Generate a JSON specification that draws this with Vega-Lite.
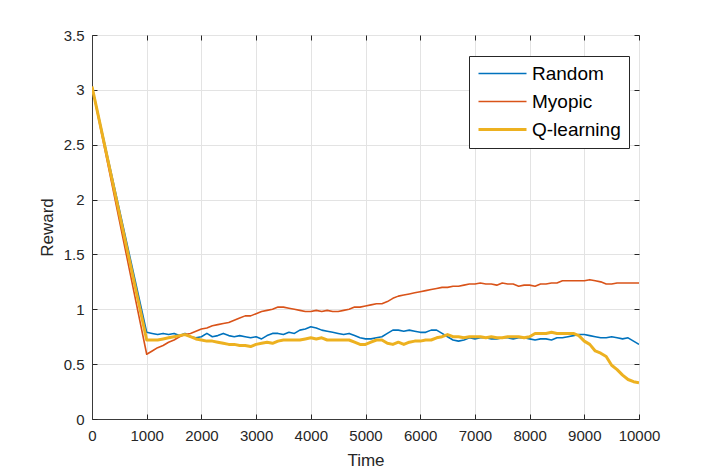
{
  "$schema": "https://vega.github.io/schema/vega-lite/v6.json",
  "width": 547,
  "height": 384,
  "autosize": {"type": "none"},
  "padding": {"left": 92, "top": 35, "right": 67, "bottom": 54},
  "background": "white",
  "data": {
    "values": [
      {"time": 0, "Random": 3.03, "Myopic": 3.03, "Q-learning": 3.03},
      {"time": 1000, "Random": 0.79, "Myopic": 0.59, "Q-learning": 0.72},
      {"time": 1100, "Random": 0.78, "Myopic": 0.62, "Q-learning": 0.72},
      {"time": 1200, "Random": 0.77, "Myopic": 0.65, "Q-learning": 0.72},
      {"time": 1300, "Random": 0.78, "Myopic": 0.67, "Q-learning": 0.73},
      {"time": 1400, "Random": 0.77, "Myopic": 0.70, "Q-learning": 0.74},
      {"time": 1500, "Random": 0.78, "Myopic": 0.72, "Q-learning": 0.75},
      {"time": 1600, "Random": 0.76, "Myopic": 0.75, "Q-learning": 0.76},
      {"time": 1700, "Random": 0.78, "Myopic": 0.77, "Q-learning": 0.77},
      {"time": 1800, "Random": 0.75, "Myopic": 0.78, "Q-learning": 0.75},
      {"time": 1900, "Random": 0.74, "Myopic": 0.80, "Q-learning": 0.73},
      {"time": 2000, "Random": 0.75, "Myopic": 0.82, "Q-learning": 0.72},
      {"time": 2100, "Random": 0.78, "Myopic": 0.83, "Q-learning": 0.71},
      {"time": 2200, "Random": 0.75, "Myopic": 0.85, "Q-learning": 0.71},
      {"time": 2300, "Random": 0.76, "Myopic": 0.86, "Q-learning": 0.70},
      {"time": 2400, "Random": 0.78, "Myopic": 0.87, "Q-learning": 0.69},
      {"time": 2500, "Random": 0.76, "Myopic": 0.88, "Q-learning": 0.68},
      {"time": 2600, "Random": 0.75, "Myopic": 0.90, "Q-learning": 0.68},
      {"time": 2700, "Random": 0.76, "Myopic": 0.92, "Q-learning": 0.67},
      {"time": 2800, "Random": 0.75, "Myopic": 0.94, "Q-learning": 0.67},
      {"time": 2900, "Random": 0.74, "Myopic": 0.94, "Q-learning": 0.66},
      {"time": 3000, "Random": 0.75, "Myopic": 0.96, "Q-learning": 0.68},
      {"time": 3100, "Random": 0.73, "Myopic": 0.98, "Q-learning": 0.69},
      {"time": 3200, "Random": 0.76, "Myopic": 0.99, "Q-learning": 0.70},
      {"time": 3300, "Random": 0.78, "Myopic": 1.00, "Q-learning": 0.69},
      {"time": 3400, "Random": 0.78, "Myopic": 1.02, "Q-learning": 0.71},
      {"time": 3500, "Random": 0.77, "Myopic": 1.02, "Q-learning": 0.72},
      {"time": 3600, "Random": 0.79, "Myopic": 1.01, "Q-learning": 0.72},
      {"time": 3700, "Random": 0.78, "Myopic": 1.00, "Q-learning": 0.72},
      {"time": 3800, "Random": 0.81, "Myopic": 0.99, "Q-learning": 0.72},
      {"time": 3900, "Random": 0.82, "Myopic": 0.98, "Q-learning": 0.73},
      {"time": 4000, "Random": 0.84, "Myopic": 0.98, "Q-learning": 0.74},
      {"time": 4100, "Random": 0.83, "Myopic": 0.99, "Q-learning": 0.73},
      {"time": 4200, "Random": 0.81, "Myopic": 0.98, "Q-learning": 0.74},
      {"time": 4300, "Random": 0.80, "Myopic": 0.99, "Q-learning": 0.72},
      {"time": 4400, "Random": 0.79, "Myopic": 0.98, "Q-learning": 0.72},
      {"time": 4500, "Random": 0.78, "Myopic": 0.98, "Q-learning": 0.72},
      {"time": 4600, "Random": 0.77, "Myopic": 0.99, "Q-learning": 0.72},
      {"time": 4700, "Random": 0.78, "Myopic": 1.00, "Q-learning": 0.72},
      {"time": 4800, "Random": 0.76, "Myopic": 1.02, "Q-learning": 0.70},
      {"time": 4900, "Random": 0.74, "Myopic": 1.02, "Q-learning": 0.68},
      {"time": 5000, "Random": 0.73, "Myopic": 1.03, "Q-learning": 0.68},
      {"time": 5100, "Random": 0.73, "Myopic": 1.04, "Q-learning": 0.70},
      {"time": 5200, "Random": 0.74, "Myopic": 1.05, "Q-learning": 0.72},
      {"time": 5300, "Random": 0.75, "Myopic": 1.05, "Q-learning": 0.72},
      {"time": 5400, "Random": 0.78, "Myopic": 1.07, "Q-learning": 0.69},
      {"time": 5500, "Random": 0.81, "Myopic": 1.10, "Q-learning": 0.68},
      {"time": 5600, "Random": 0.81, "Myopic": 1.12, "Q-learning": 0.70},
      {"time": 5700, "Random": 0.80, "Myopic": 1.13, "Q-learning": 0.68},
      {"time": 5800, "Random": 0.81, "Myopic": 1.14, "Q-learning": 0.70},
      {"time": 5900, "Random": 0.80, "Myopic": 1.15, "Q-learning": 0.71},
      {"time": 6000, "Random": 0.79, "Myopic": 1.16, "Q-learning": 0.71},
      {"time": 6100, "Random": 0.79, "Myopic": 1.17, "Q-learning": 0.72},
      {"time": 6200, "Random": 0.81, "Myopic": 1.18, "Q-learning": 0.72},
      {"time": 6300, "Random": 0.81, "Myopic": 1.19, "Q-learning": 0.74},
      {"time": 6400, "Random": 0.78, "Myopic": 1.20, "Q-learning": 0.75},
      {"time": 6500, "Random": 0.75, "Myopic": 1.20, "Q-learning": 0.77},
      {"time": 6600, "Random": 0.72, "Myopic": 1.21, "Q-learning": 0.75},
      {"time": 6700, "Random": 0.71, "Myopic": 1.21, "Q-learning": 0.75},
      {"time": 6800, "Random": 0.72, "Myopic": 1.22, "Q-learning": 0.74},
      {"time": 6900, "Random": 0.74, "Myopic": 1.23, "Q-learning": 0.75},
      {"time": 7000, "Random": 0.73, "Myopic": 1.23, "Q-learning": 0.75},
      {"time": 7100, "Random": 0.74, "Myopic": 1.24, "Q-learning": 0.75},
      {"time": 7200, "Random": 0.74, "Myopic": 1.23, "Q-learning": 0.74},
      {"time": 7300, "Random": 0.73, "Myopic": 1.23, "Q-learning": 0.75},
      {"time": 7400, "Random": 0.73, "Myopic": 1.22, "Q-learning": 0.74},
      {"time": 7500, "Random": 0.74, "Myopic": 1.24, "Q-learning": 0.74},
      {"time": 7600, "Random": 0.74, "Myopic": 1.23, "Q-learning": 0.75},
      {"time": 7700, "Random": 0.73, "Myopic": 1.23, "Q-learning": 0.75},
      {"time": 7800, "Random": 0.74, "Myopic": 1.21, "Q-learning": 0.75},
      {"time": 7900, "Random": 0.74, "Myopic": 1.22, "Q-learning": 0.74},
      {"time": 8000, "Random": 0.73, "Myopic": 1.22, "Q-learning": 0.75},
      {"time": 8100, "Random": 0.72, "Myopic": 1.21, "Q-learning": 0.78},
      {"time": 8200, "Random": 0.73, "Myopic": 1.23, "Q-learning": 0.78},
      {"time": 8300, "Random": 0.73, "Myopic": 1.23, "Q-learning": 0.78},
      {"time": 8400, "Random": 0.72, "Myopic": 1.24, "Q-learning": 0.79},
      {"time": 8500, "Random": 0.74, "Myopic": 1.24, "Q-learning": 0.78},
      {"time": 8600, "Random": 0.74, "Myopic": 1.26, "Q-learning": 0.78},
      {"time": 8700, "Random": 0.75, "Myopic": 1.26, "Q-learning": 0.78},
      {"time": 8800, "Random": 0.76, "Myopic": 1.26, "Q-learning": 0.78},
      {"time": 8900, "Random": 0.77, "Myopic": 1.26, "Q-learning": 0.76},
      {"time": 9000, "Random": 0.77, "Myopic": 1.26, "Q-learning": 0.71},
      {"time": 9100, "Random": 0.76, "Myopic": 1.27, "Q-learning": 0.68},
      {"time": 9200, "Random": 0.75, "Myopic": 1.26, "Q-learning": 0.62},
      {"time": 9300, "Random": 0.74, "Myopic": 1.25, "Q-learning": 0.60},
      {"time": 9400, "Random": 0.74, "Myopic": 1.23, "Q-learning": 0.57},
      {"time": 9500, "Random": 0.75, "Myopic": 1.23, "Q-learning": 0.49},
      {"time": 9600, "Random": 0.74, "Myopic": 1.24, "Q-learning": 0.45},
      {"time": 9700, "Random": 0.73, "Myopic": 1.24, "Q-learning": 0.40},
      {"time": 9800, "Random": 0.74, "Myopic": 1.24, "Q-learning": 0.36},
      {"time": 9900, "Random": 0.71, "Myopic": 1.24, "Q-learning": 0.34},
      {"time": 10000, "Random": 0.68, "Myopic": 1.24, "Q-learning": 0.33}
    ]
  },
  "transform": [
    {"fold": ["Random", "Myopic", "Q-learning"], "as": ["series", "reward"]}
  ],
  "layer": [
    {
      "mark": {"type": "line", "strokeJoin": "round", "clip": true},
      "encoding": {
        "x": {
          "field": "time",
          "type": "quantitative",
          "scale": {"domain": [0, 10000], "nice": false, "zero": false},
          "axis": {
            "orient": "bottom",
            "title": "Time",
            "values": [0, 1000, 2000, 3000, 4000, 5000, 6000, 7000, 8000, 9000, 10000],
            "format": "d",
            "grid": true,
            "labelFlush": false,
            "tickSize": -5,
            "labelPadding": 14,
            "titlePadding": 9
          }
        },
        "y": {
          "field": "reward",
          "type": "quantitative",
          "scale": {"domain": [0, 3.5], "nice": false},
          "axis": {
            "orient": "left",
            "title": "Reward",
            "values": [0, 0.5, 1, 1.5, 2, 2.5, 3, 3.5],
            "format": "~g",
            "grid": true,
            "labelFlush": false,
            "tickSize": -5,
            "labelPadding": 13,
            "titlePadding": 7
          }
        },
        "color": {
          "field": "series",
          "type": "nominal",
          "scale": {
            "domain": ["Random", "Myopic", "Q-learning"],
            "range": ["#0072BD", "#D95319", "#EDB120"]
          },
          "legend": {
            "title": null,
            "orient": "none",
            "legendX": 377,
            "legendY": 21,
            "fillColor": "white",
            "strokeColor": "#262626",
            "padding": 8,
            "symbolType": "M-1,0H5",
            "symbolSize": 256,
            "labelOffset": 36,
            "labelFontSize": 19,
            "rowPadding": 8,
            "encode": {
              "symbols": {
                "update": {
                  "strokeWidth": {"signal": "datum.value === 'Q-learning' ? 3 : 1.6"}
                }
              }
            }
          }
        },
        "strokeWidth": {
          "condition": {"test": "datum.series === 'Q-learning'", "value": 3},
          "value": 1.6
        }
      }
    },
    {
      "mark": {"type": "line", "opacity": 0},
      "encoding": {
        "x": {
          "field": "time",
          "type": "quantitative",
          "axis": {
            "orient": "top",
            "title": null,
            "values": [0, 1000, 2000, 3000, 4000, 5000, 6000, 7000, 8000, 9000, 10000],
            "labels": false,
            "grid": false,
            "domain": false,
            "tickSize": -5
          }
        },
        "y": {
          "field": "reward",
          "type": "quantitative",
          "axis": {
            "orient": "right",
            "title": null,
            "values": [0, 0.5, 1, 1.5, 2, 2.5, 3, 3.5],
            "labels": false,
            "grid": false,
            "domain": false,
            "tickSize": -5
          }
        }
      }
    }
  ],
  "resolve": {"axis": {"x": "independent", "y": "independent"}},
  "config": {
    "font": "Liberation Sans",
    "view": {"stroke": "#3a3a3a", "strokeWidth": 1},
    "axis": {
      "labelFont": "Liberation Sans",
      "titleFont": "Liberation Sans",
      "labelFontSize": 15,
      "titleFontSize": 17,
      "titleFontWeight": "normal",
      "labelColor": "#262626",
      "titleColor": "#262626",
      "domainColor": "#3a3a3a",
      "tickColor": "#262626",
      "gridColor": "#e3e3e3",
      "gridOpacity": 1
    },
    "legend": {
      "labelFont": "Liberation Sans",
      "labelColor": "#000000",
      "symbolStrokeWidth": 2
    }
  }
}
